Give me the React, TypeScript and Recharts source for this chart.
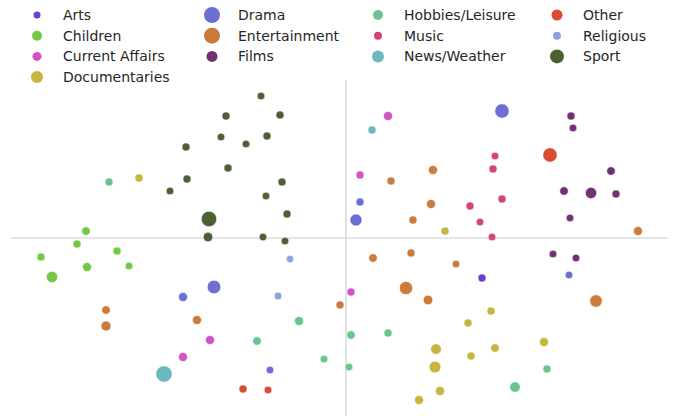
import React from 'react';
import { ScatterChart, Scatter, XAxis, YAxis, ZAxis, ReferenceLine } from 'recharts';

// categories in legend order
const CATEGORIES = [
  'Arts', 'Children', 'Current Affairs', 'Documentaries',
  'Drama', 'Entertainment', 'Films',
  'Hobbies/Leisure', 'Music', 'News/Weather',
  'Other', 'Religious', 'Sport',
];

const COLORS: Record<string, string> = {
  'Arts': '#6c3fcf',
  'Children': '#74c845',
  'Current Affairs': '#d452c6',
  'Documentaries': '#c6b540',
  'Drama': '#6c6fd3',
  'Entertainment': '#cb7b3b',
  'Films': '#6f3373',
  'Hobbies/Leisure': '#69c58d',
  'Music': '#d3466f',
  'News/Weather': '#6cb8c1',
  'Other': '#d84b34',
  'Religious': '#8ba3db',
  'Sport': '#4c6133',
};

// legend marker radius per category
const LEGEND_R: Record<string, number> = {
  'Arts': 3.5, 'Children': 5, 'Current Affairs': 4.5, 'Documentaries': 6,
  'Drama': 8, 'Entertainment': 8, 'Films': 5.5,
  'Hobbies/Leisure': 5, 'Music': 4, 'News/Weather': 6,
  'Other': 5.5, 'Religious': 4, 'Sport': 7,
};

// [x, y, weight]
const arts = [[1.36, -0.40, 14]];
const children = [
  [-2.60, 0.07, 16], [-2.69, -0.06, 14], [-2.29, -0.13, 14], [-3.05, -0.19, 14],
  [-2.59, -0.29, 18], [-2.17, -0.28, 13], [-2.94, -0.39, 28],
];
const currentAffairs = [
  [0.42, 1.22, 18], [0.14, 0.63, 14], [0.05, -0.54, 14], [-1.36, -1.02, 18], [-1.63, -1.19, 18],
];
const documentaries = [
  [-2.07, 0.60, 14], [0.99, 0.07, 14], [1.45, -0.73, 14], [1.22, -0.85, 14],
  [0.90, -1.11, 25], [1.49, -1.10, 16], [1.98, -1.04, 18], [1.25, -1.18, 14],
  [0.89, -1.29, 30], [0.94, -1.53, 18], [0.73, -1.62, 18],
];
const drama = [
  [1.56, 1.27, 45], [0.14, 0.36, 14], [0.10, 0.18, 32], [-1.32, -0.49, 40],
  [-1.63, -0.59, 18], [2.23, -0.37, 13], [-0.76, -1.32, 13],
];
const entertainment = [
  [0.87, 0.68, 18], [0.45, 0.57, 14], [0.85, 0.34, 18], [0.67, 0.18, 14],
  [2.92, 0.07, 18], [0.65, -0.15, 14], [0.27, -0.20, 16], [1.10, -0.26, 13],
  [0.60, -0.50, 38], [0.82, -0.62, 20], [2.50, -0.63, 34], [-0.06, -0.67, 14],
  [-2.40, -0.72, 16], [-2.40, -0.88, 22], [-1.49, -0.82, 18],
];
const films = [
  [2.25, 1.22, 14], [2.27, 1.10, 13], [2.65, 0.67, 16], [2.18, 0.47, 16],
  [2.45, 0.45, 28], [2.70, 0.44, 14], [2.24, 0.20, 13], [2.07, -0.16, 13], [2.30, -0.20, 13],
];
const hobbies = [
  [-2.37, 0.56, 14], [-0.47, -0.83, 18], [-0.89, -1.03, 16], [-0.22, -1.21, 13],
  [0.05, -0.97, 16], [0.42, -0.95, 14], [0.03, -1.29, 13], [2.01, -1.31, 14], [1.69, -1.49, 24],
];
const music = [
  [1.49, 0.82, 13], [1.47, 0.69, 14], [1.56, 0.39, 14], [1.24, 0.32, 14],
  [1.34, 0.16, 13], [1.46, 0.01, 13],
];
const news = [[0.26, 1.08, 14], [-1.82, -1.36, 58]];
const other = [[2.04, 0.83, 45], [-1.03, -1.51, 14], [-0.78, -1.52, 13]];
const religious = [[-0.56, -0.21, 12], [-0.68, -0.58, 13]];
const sport = [
  [-0.85, 1.42, 13], [-1.20, 1.22, 14], [-0.66, 1.23, 14], [-1.25, 1.01, 13],
  [-0.79, 1.02, 14], [-1.00, 0.94, 13], [-1.60, 0.91, 14], [-1.18, 0.70, 14],
  [-1.59, 0.59, 14], [-1.76, 0.47, 13], [-0.64, 0.56, 14], [-0.80, 0.42, 13],
  [-1.37, 0.19, 52], [-0.59, 0.24, 14], [-1.38, 0.01, 20], [-0.83, 0.01, 13], [-0.61, -0.03, 13],
];

const SERIES = [arts, children, currentAffairs, documentaries, drama, entertainment, films,
  hobbies, music, news, other, religious, sport];

const toPoints = (rows: number[][]) => rows.map(([x, y, w]) => ({ x, y, w }));

const FONT = '"DejaVu Sans", sans-serif';

const LegendBox = () => (
  <svg width={678} height={90} style={{ position: 'absolute', left: 0, top: 0 }}>
    {CATEGORIES.map((name, i) => {
      const col = i < 4 ? 0 : 1 + Math.floor((i - 4) / 3);
      const row = i < 4 ? i : (i - 4) % 3;
      const mx = [37, 212, 378, 557][col];
      const cy = 15 + row * 20.7;
      return (
        <g key={name}>
          <circle cx={mx} cy={cy} r={LEGEND_R[name]} fill={COLORS[name]} />
          <text x={mx + 26} y={cy + 5} fontSize={14} fontFamily={FONT} fill="#262626">{name}</text>
        </g>
      );
    })}
  </svg>
);

export default function App() {
  return (
    <div style={{ position: 'absolute', left: 0, top: 0, width: 678, height: 418, background: '#fff' }}>
      <ScatterChart width={678} height={418} margin={{ top: 80, right: 10, bottom: 2, left: 11 }}>
        <XAxis type="number" dataKey="x" domain={[-3.35, 3.22]} allowDataOverflow hide />
        <YAxis type="number" dataKey="y" domain={[-1.78, 1.58]} allowDataOverflow hide />
        <ZAxis type="number" dataKey="w" domain={[0, 60]} range={[0, 60 * Math.PI * 1.15]} />
        <ReferenceLine x={0} stroke="#cccccc" strokeWidth={1.2} />
        <ReferenceLine y={0} stroke="#cccccc" strokeWidth={1.2} />
        {CATEGORIES.map((name, i) => (
          <Scatter
            key={name}
            name={name}
            data={toPoints(SERIES[i])}
            fill={COLORS[name]}
            stroke="#ffffff"
            strokeWidth={0.6}
            isAnimationActive={false}
          />
        ))}
      </ScatterChart>
      <LegendBox />
    </div>
  );
}
